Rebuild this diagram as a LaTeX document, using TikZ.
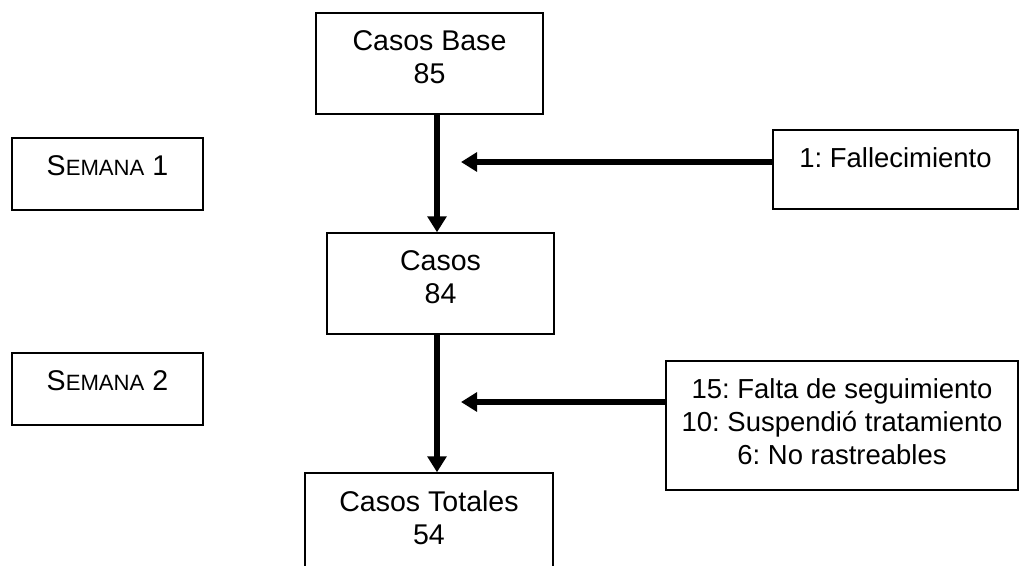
\documentclass[tikz,border=0pt]{standalone}
\usepackage{fontspec}
\setmainfont{Liberation Sans}
\usetikzlibrary{arrows.meta}
\newdimen\pxu \pxu=0.75pt
\newcommand{\bx}[3]{\parbox[c][#2\pxu][t]{#1\pxu}{\centering\vspace*{18\pxu}#3}}
\newcommand{\smc}[1]{{\fontsize{16.6}{20}\selectfont #1}}
\frenchspacing
\begin{document}
\begin{tikzpicture}[x=0.75pt,y=-0.75pt,
  box/.style={draw, line width=1.1pt, inner sep=0pt, rectangle, font=\fontsize{21.4}{24.75}\selectfont},
  sidebox/.style={box, font=\fontsize{20.6}{24.75}\selectfont},
  flow/.style={line width=4.2pt, -{Triangle[width=14pt,length=12pt]}}]
\useasboundingbox (0,0) rectangle (1024,565);
\clip (0,0) rectangle (1024,565);
\node[box] (base) at (429.5,63.5) {\bx{227}{101}{Casos Base\\85}};
\node[box] (casos) at (440.5,283.5) {\bx{227}{101}{Casos\\84}};
\node[box] (total) at (429,533) {\bx{248}{120}{Casos Totales\\54}};
\node[box] (sem1) at (107.5,174) {\bx{191}{72}{S\smc{EMANA} 1}};
\node[box] (sem2) at (107.5,389) {\bx{191}{72}{S\smc{EMANA} 2}};
\node[sidebox] (r1) at (895.5,169.5) {\bx{245}{79}{1: Fallecimiento}};
\node[sidebox] (r2) at (842,425.5) {\bx{352}{129}{15: Falta de seguimiento\\10: Suspendió tratamiento\\6: No rastreables}};
\coordinate (ax) at (437,0);
\coordinate (a1) at (461,162);
\coordinate (a2) at (461,402);
\draw[flow] (base.south -| ax) -- (casos.north -| ax);
\draw[flow] (casos.south -| ax) -- (total.north -| ax);
\draw[flow] (r1.west |- a1) -- (a1);
\draw[flow] (r2.west |- a2) -- (a2);
\end{tikzpicture}
\end{document}
